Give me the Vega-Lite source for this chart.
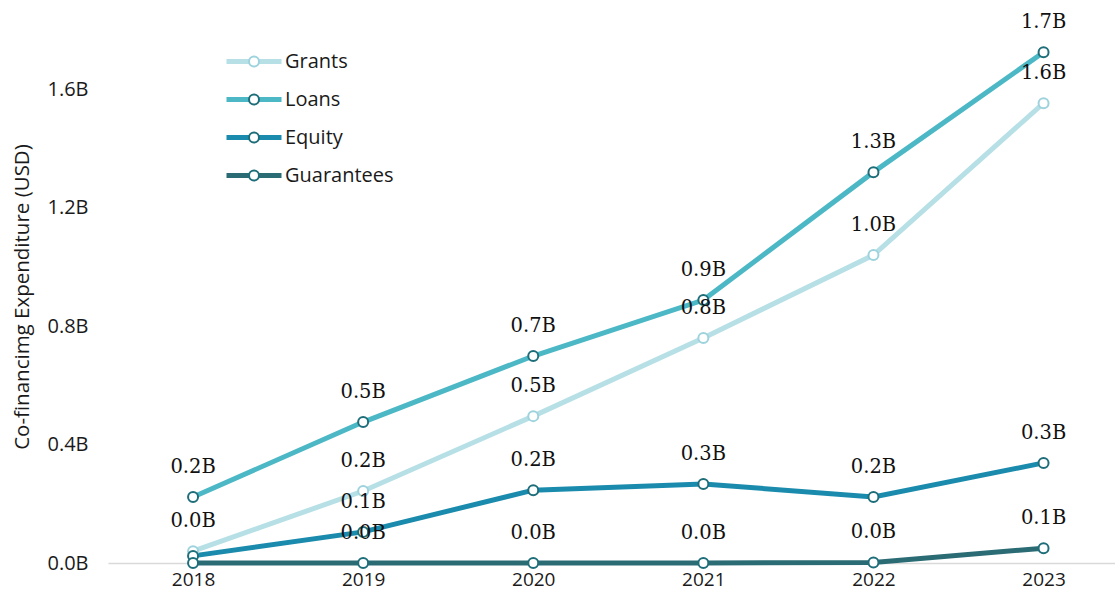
{
  "$schema": "https://vega.github.io/schema/vega-lite/v6.json",
  "width": 1007,
  "height": 533,
  "autosize": {"type": "none"},
  "padding": {"left": 108, "top": 30, "right": 0, "bottom": 42},
  "background": "white",
  "config": {"view": {"stroke": null}, "font": "Open Sans"},
  "data": {"values": [
    {"year": 2018, "series": "Grants", "value": 0.040},
    {"year": 2019, "series": "Grants", "value": 0.243},
    {"year": 2020, "series": "Grants", "value": 0.496},
    {"year": 2021, "series": "Grants", "value": 0.760},
    {"year": 2022, "series": "Grants", "value": 1.040},
    {"year": 2023, "series": "Grants", "value": 1.553},
    {"year": 2018, "series": "Loans", "value": 0.223},
    {"year": 2019, "series": "Loans", "value": 0.476},
    {"year": 2020, "series": "Loans", "value": 0.699},
    {"year": 2021, "series": "Loans", "value": 0.888},
    {"year": 2022, "series": "Loans", "value": 1.320},
    {"year": 2023, "series": "Loans", "value": 1.725},
    {"year": 2018, "series": "Equity", "value": 0.024},
    {"year": 2019, "series": "Equity", "value": 0.105},
    {"year": 2020, "series": "Equity", "value": 0.246},
    {"year": 2021, "series": "Equity", "value": 0.267},
    {"year": 2022, "series": "Equity", "value": 0.223},
    {"year": 2023, "series": "Equity", "value": 0.338},
    {"year": 2018, "series": "Guarantees", "value": 0.0},
    {"year": 2019, "series": "Guarantees", "value": 0.0},
    {"year": 2020, "series": "Guarantees", "value": 0.0},
    {"year": 2021, "series": "Guarantees", "value": 0.0},
    {"year": 2022, "series": "Guarantees", "value": 0.002},
    {"year": 2023, "series": "Guarantees", "value": 0.050}
  ]},
  "transform": [
    {"calculate": "format(datum.value, '.1f') + 'B'", "as": "label"},
    {"calculate": "datum.series + ' marker'", "as": "marker"}
  ],
  "encoding": {
    "x": {"field": "year", "type": "quantitative",
      "scale": {"domain": [2017.5, 2023.42], "nice": false, "zero": false},
      "axis": {"title": null, "values": [2018, 2019, 2020, 2021, 2022, 2023], "format": "d",
        "grid": false, "ticks": false, "domain": true, "domainColor": "#d9d9d9", "domainWidth": 1.5,
        "labelFont": "Open Sans", "labelFontSize": 19, "labelColor": "#1a1a1a", "labelPadding": 7}},
    "y": {"field": "value", "type": "quantitative",
      "scale": {"domain": [0, 1.8], "nice": false},
      "axis": {"title": "Co-financimg Expenditure (USD)", "values": [0, 0.4, 0.8, 1.2, 1.6],
        "labelExpr": "format(datum.value, '.1f') + 'B'",
        "grid": false, "ticks": false, "domain": false,
        "labelFont": "Open Sans", "labelFontSize": 20, "labelColor": "#1a1a1a", "labelPadding": 20,
        "titleFont": "Open Sans", "titleFontSize": 20.5, "titleFontWeight": "normal", "titleColor": "#1a1a1a",
        "titleX": -86, "titleBaseline": "middle", "titleAngle": -90}}
  },
  "layer": [
    {
      "mark": {"type": "line", "strokeWidth": 5},
      "encoding": {
        "color": {"field": "series", "type": "nominal",
          "scale": {"domain": ["Grants", "Loans", "Equity", "Guarantees"],
            "range": ["#b6e0e6", "#4cb8c6", "#1a8bad", "#2b6c74"]},
          "legend": {"title": null, "orient": "none", "legendX": 136, "legendY": 21.5,
            "symbolType": "M-5,0L5,0", "symbolSize": 121, "symbolStrokeWidth": 5,
            "labelFont": "Open Sans", "labelFontSize": 20, "labelColor": "#1a1a1a", "labelOffset": 21,
            "rowPadding": 18, "padding": 0, "zindex": 1}}
      }
    },
    {
      "mark": {"type": "point", "filled": true, "fill": "white", "strokeWidth": 2, "size": 100, "opacity": 1},
      "encoding": {
        "stroke": {"field": "marker", "type": "nominal",
          "scale": {"domain": ["Grants marker", "Loans marker", "Equity marker", "Guarantees marker"],
            "range": ["#9ed3dd", "#1e6e7a", "#1e6e7a", "#1e6e7a"]},
          "legend": {"title": null, "orient": "none", "legendX": 136, "legendY": 21.5,
            "symbolType": "circle", "symbolSize": 100, "symbolStrokeWidth": 2, "symbolFillColor": "white", "symbolOpacity": 1,
            "labelFont": "Open Sans", "labelFontSize": 20, "labelExpr": "''",
            "rowPadding": 18, "padding": 0, "zindex": 2}}
      }
    },
    {
      "transform": [{"filter": "!(datum.year == 2018 && (datum.series == 'Equity' || datum.series == 'Guarantees'))"}],
      "mark": {"type": "text", "font": "DejaVu Serif", "fontSize": 19.5, "color": "#111111", "dy": -24, "baseline": "alphabetic"},
      "encoding": {"text": {"field": "label"}}
    }
  ]
}
